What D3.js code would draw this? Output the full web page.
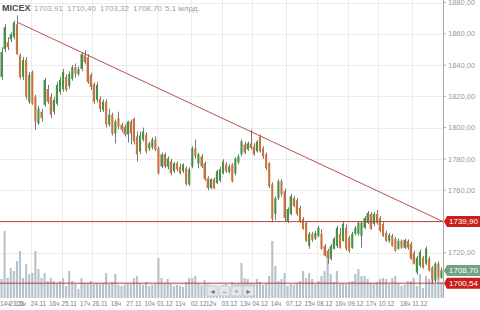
<!doctype html>
<html>
<head>
<meta charset="UTF-8">
<title>MICEX</title>
<style>
  body { margin: 0; background: #fff; }
  svg { display: block; font-family: Arial, "Liberation Sans", sans-serif; }
</style>
</head>
<body>
<div id="chart"></div>
<script src="https://cdn.jsdelivr.net/npm/d3@7"></script>
<script>
// hourly candles, MICEX index
var opens = [1832.4,1850.2,1854.6,1856.5,1857.8,1866.1,1846.4,1832.4,1843.2,1816.5,1835.6,1819.7,1802.6,1810.2,1814.6,1824.7,1819.7,1810.2,1815.3,1822.9,
  1824.7,1832.4,1826.6,1831.1,1838.7,1834.3,1837.5,1846.4,1845.1,1833.7,1827.9,1817.8,1818.4,1811.4,1816.5,1801.9,1808.3,1796.2,1806.0,1801.9,
  1800.6,1795.6,1803.8,1805.7,1794.3,1784.8,1792.4,1795.6,1786.7,1787.3,1792.4,1786.7,1775.2,1782.9,1775.0,1778.4,1772.1,1777.2,1775.0,1772.1,
  1774.0,1763.8,1775.2,1786.7,1777.0,1781.6,1777.2,1767.6,1761.3,1767.0,1764.5,1766.0,1770.8,1776.5,1771.5,1776.5,1770.8,1777.8,1782.9,1789.2,
  1786.0,1789.9,1788.0,1784.8,1794.3,1786.7,1782.9,1777.2,1763.8,1744.8,1754.9,1765.7,1759.4,1740.3,1744.8,1754.9,1753.6,1748.6,1741.6,1739.1,
  1724.4,1732.1,1729.0,1730.8,1732.1,1724.4,1721.3,1716.2,1722.5,1724.4,1732.1,1727.6,1735.9,1729.5,1723.2,1732.1,1732.1,1730.8,1735.9,1739.1,
  1744.8,1738.4,1744.8,1742.2,1738.4,1732.7,1727.6,1730.8,1728.9,1722.5,1727.6,1723.2,1727.6,1725.7,1720.0,1707.3,1711.7,1716.8,1713.0,1716.2,
  1710.5,1702.2,1713.0,1703.91];
var highs = [1851.4,1866.1,1857.8,1861.0,1868.5,1871.8,1847.5,1845.1,1845.0,1835.6,1836.5,1821.0,1814.0,1812.0,1831.8,1827.3,1822.0,1819.7,1829.2,1832.4,
  1837.5,1834.0,1836.0,1840.0,1841.0,1839.0,1848.3,1849.5,1847.0,1835.0,1829.0,1829.0,1820.0,1818.0,1818.0,1812.0,1809.5,1805.1,1810.2,1803.0,
  1801.9,1804.5,1805.1,1806.4,1797.5,1797.5,1800.0,1797.0,1791.0,1793.7,1794.3,1788.0,1784.0,1784.0,1781.6,1780.0,1778.0,1778.4,1777.0,1777.2,
  1775.2,1774.6,1788.0,1792.4,1784.0,1783.0,1778.4,1768.9,1767.6,1768.0,1773.0,1775.0,1779.7,1778.0,1776.5,1777.2,1781.0,1783.0,1792.4,1791.0,
  1791.1,1798.7,1790.0,1792.0,1795.6,1788.0,1784.0,1778.0,1765.0,1756.0,1767.0,1767.0,1761.0,1749.0,1757.5,1756.0,1755.0,1750.0,1742.9,1740.3,
  1733.4,1733.4,1734.0,1737.1,1735.0,1725.5,1722.5,1725.5,1730.0,1737.1,1735.9,1740.0,1738.0,1730.8,1733.4,1737.0,1740.3,1740.0,1743.5,1746.7,
  1746.0,1746.0,1747.3,1743.5,1739.5,1734.0,1732.7,1732.0,1730.0,1729.0,1728.5,1729.0,1728.5,1727.0,1721.3,1718.0,1722.0,1718.0,1724.0,1717.5,
  1711.5,1714.0,1714.5,1710.40];
var lows = [1830.5,1848.3,1849.5,1854.6,1856.5,1846.4,1831.0,1830.5,1818.0,1815.3,1814.6,1798.7,1801.9,1803.8,1813.3,1815.3,1806.0,1808.3,1814.0,1821.0,
  1823.0,1822.9,1825.0,1830.0,1832.0,1833.0,1836.0,1840.5,1828.0,1824.0,1815.0,1816.0,1810.0,1810.0,1800.0,1800.6,1795.0,1789.9,1799.0,1797.0,
  1794.3,1790.5,1789.2,1789.2,1778.4,1783.0,1791.1,1783.5,1785.0,1786.0,1785.0,1770.0,1774.0,1774.0,1773.3,1769.5,1771.0,1772.0,1770.0,1771.0,
  1763.0,1762.5,1774.0,1780.0,1774.0,1774.0,1766.0,1760.0,1760.6,1760.6,1763.8,1765.0,1770.0,1771.0,1770.8,1765.0,1769.5,1776.5,1781.6,1783.0,
  1785.0,1786.0,1782.0,1784.0,1784.0,1780.0,1773.0,1761.3,1740.3,1740.9,1753.6,1756.0,1740.3,1739.0,1744.0,1749.0,1743.5,1739.0,1734.6,1726.9,
  1722.5,1727.0,1728.0,1730.0,1721.9,1717.5,1713.0,1715.0,1722.0,1723.0,1722.5,1727.0,1721.3,1720.0,1722.5,1731.0,1731.0,1723.2,1735.0,1738.4,
  1734.6,1737.0,1738.0,1733.0,1730.0,1726.9,1726.3,1723.8,1720.6,1721.9,1722.5,1722.5,1722.0,1715.5,1712.4,1706.0,1710.5,1709.8,1712.0,1707.9,
  1700.54,1701.0,1703.3,1703.32];
var closes = [1848.3,1864.1,1851.4,1859.7,1867.3,1847.0,1832.4,1843.2,1819.7,1833.7,1815.3,1803.8,1812.1,1806.0,1830.5,1816.5,1808.3,1817.8,1827.3,1830.5,
  1835.6,1824.1,1834.3,1838.7,1834.3,1837.5,1847.0,1841.9,1829.2,1826.0,1816.5,1827.3,1812.1,1816.5,1801.9,1808.3,1796.2,1803.8,1800.6,1798.7,
  1795.6,1803.8,1796.2,1791.1,1782.9,1795.0,1797.5,1784.8,1789.9,1792.4,1786.0,1770.8,1782.9,1775.2,1780.3,1770.8,1777.2,1773.3,1770.8,1776.5,
  1763.8,1773.3,1786.7,1781.6,1782.9,1775.2,1767.0,1761.3,1767.0,1761.3,1772.1,1773.3,1778.4,1772.1,1775.2,1765.7,1780.3,1781.6,1791.1,1784.0,
  1789.9,1787.0,1782.9,1791.1,1784.8,1781.6,1774.0,1762.5,1741.6,1754.9,1765.7,1757.5,1742.2,1747.9,1756.2,1749.8,1744.8,1740.3,1735.3,1727.6,
  1732.1,1728.2,1732.7,1735.9,1722.5,1718.1,1716.2,1724.4,1728.9,1735.9,1723.2,1738.4,1722.5,1721.3,1732.1,1735.9,1739.1,1739.1,1742.2,1745.4,
  1735.3,1744.8,1739.1,1734.0,1730.8,1727.6,1731.4,1724.4,1721.3,1727.6,1723.2,1728.2,1723.2,1716.2,1713.0,1716.8,1720.6,1710.5,1722.5,1708.6,
  1703.0,1713.0,1704.1,1708.70];
var volumes = [19,67,20,30,27,37,47,20,34,24,25,47,29,20,25,17,20,17,15,17,
  20,12,27,17,14,9,20,15,15,17,14,15,14,15,25,14,16,24,13,12,
  13,15,14,20,22,15,13,16,12,13,14,40,20,15,19,14,12,13,12,11,
  16,20,20,22,15,13,18,14,11,12,10,12,13,14,12,16,14,15,35,20,
  19,15,14,19,16,13,15,22,57,32,17,19,25,12,14,13,15,17,27,20,
  25,19,14,17,22,27,39,24,16,27,14,15,14,16,17,24,29,22,22,19,
  15,14,16,19,20,19,14,20,22,15,12,13,17,17,20,12,24,10,22,19,
  30,14,20,16];

// x axis labels: candle index where the label starts
var tickIdx = [0,3,5,10,16,20,26,30,36,41,47,51,57,62,67,72,78,82,88,93,99,103,109,113,119,123,130,134];
var tickLabels = ["14ч","23.11","15ч","24.11","16ч","25.11","17ч","26.11","18ч","27.11","10ч","01.12","11ч","02.12","12ч","03.12",
  "13ч","04.12","14ч","07.12","15ч","08.12","16ч","09.12","17ч","10.12","18ч","11.12"];
var priceTicks = [1700,1720,1740,1760,1780,1800,1820,1840,1860,1880];

var header = ["1703,91","1710,40","1703,32","1708,70","5,1 млрд."];
var trendFrom = [5, 1867.5], trendTo = [143.5, 1739.9];
var levels = [1739.90, 1700.54];
var lastPrice = 1708.70;

var W = 480, H = 310, plotR = 443, volBase = 298;
var n = closes.length;
var fmt = function(v) { return d3.format(".2f")(v).replace(".", ","); };

var svg = d3.select("#chart").append("svg")
  .attr("width", W).attr("height", H);
svg.append("rect").attr("width", W).attr("height", H).attr("fill", "#fff");

var x = d3.scaleLinear().domain([-0.5, n - 0.5]).range([0, plotR]);
var y = d3.scaleLinear().domain([1700, 1880]).range([284, 2.5]);
var yv = d3.scaleLinear().domain([0, 70]).range([volBase, volBase - 70]);
var bw = (x(1) - x(0)) * 0.68;

// grid
svg.append("g").selectAll("line").data(priceTicks).join("line")
  .attr("x1", 0).attr("x2", plotR)
  .attr("y1", function(d) { return Math.round(y(d)) + 0.5; })
  .attr("y2", function(d) { return Math.round(y(d)) + 0.5; })
  .attr("stroke", "#ececec");
var dateTicks = tickIdx.filter(function(d, i) { return tickLabels[i].indexOf(".") > 0 && i > 1; });
svg.append("g").selectAll("line").data(dateTicks).join("line")
  .attr("x1", function(d) { return Math.round(x(d - 0.5)) + 0.5; })
  .attr("x2", function(d) { return Math.round(x(d - 0.5)) + 0.5; })
  .attr("y1", 0).attr("y2", volBase)
  .attr("stroke", "#ececec");

// volume
svg.append("g").selectAll("rect").data(volumes).join("rect")
  .attr("x", function(d, i) { return x(i) - bw / 2; })
  .attr("y", function(d) { return yv(d); })
  .attr("width", bw)
  .attr("height", function(d) { return volBase - yv(d); })
  .attr("fill", "#b7c1cb");

// candles
var cg = svg.append("g");
cg.selectAll("line").data(closes).join("line")
  .attr("x1", function(d, i) { return Math.round(x(i)) + 0.5; })
  .attr("x2", function(d, i) { return Math.round(x(i)) + 0.5; })
  .attr("y1", function(d, i) { return y(highs[i]); })
  .attr("y2", function(d, i) { return y(lows[i]); })
  .attr("stroke", "#555").attr("stroke-width", 0.8);
cg.selectAll("rect").data(closes).join("rect")
  .attr("x", function(d, i) { return x(i) - bw / 2; })
  .attr("y", function(d, i) { return y(Math.max(d, opens[i])); })
  .attr("width", bw)
  .attr("height", function(d, i) { return Math.max(1, Math.abs(y(d) - y(opens[i]))); })
  .attr("fill", function(d, i) { return d >= opens[i] ? "#459245" : "#c9743c"; });

// trend line and levels
svg.append("line")
  .attr("x1", x(trendFrom[0])).attr("y1", y(trendFrom[1]))
  .attr("x2", x(trendTo[0])).attr("y2", y(trendTo[1]))
  .attr("stroke", "#b9514c").attr("stroke-width", 1);
svg.append("g").selectAll("line").data(levels).join("line")
  .attr("x1", 0).attr("x2", plotR)
  .attr("y1", function(d) { return y(d); }).attr("y2", function(d) { return y(d); })
  .attr("stroke", "#b9413c").attr("stroke-width", 1);

// price boxes
var boxes = [
  { v: levels[0], c: "#c81e1e" },
  { v: lastPrice, c: "#6fa384" },
  { v: levels[1], c: "#c81e1e" }
];

// right axis; labels hidden where a price box covers them
svg.append("line").attr("x1", plotR + 0.5).attr("x2", plotR + 0.5)
  .attr("y1", 0).attr("y2", volBase).attr("stroke", "#a9a9a9");
var ax = svg.append("g").selectAll("g").data(priceTicks).join("g")
  .attr("transform", function(d) { return "translate(" + plotR + "," + y(d) + ")"; });
ax.append("line").attr("x1", 0).attr("x2", 3).attr("stroke", "#a9a9a9");
ax.filter(function(d) {
    return boxes.every(function(b) { return Math.abs(y(b.v) - y(d)) > 9; });
  })
  .append("text").attr("x", 5).attr("dy", "0.35em")
  .attr("font-size", 7.5).attr("fill", "#9a9a9a").text(fmt);

var bx = svg.append("g").selectAll("g").data(boxes).join("g")
  .attr("transform", function(d) { return "translate(" + (plotR + 1) + "," + y(d.v) + ")"; });
bx.append("path").attr("d", "M0,0 L3,-5.5 H36 V5.5 H3 Z").attr("fill", function(d) { return d.c; });
bx.append("text").attr("x", 5).attr("dy", "0.35em").attr("font-size", 8)
  .attr("fill", "#fff").text(function(d) { return fmt(d.v); });

// x labels
svg.append("g").selectAll("text").data(tickIdx).join("text")
  .attr("x", function(d) { return x(d - 0.5); })
  .attr("y", 306)
  .attr("font-size", 6.3).attr("fill", "#7d7d7d")
  .text(function(d, i) { return tickLabels[i]; });

// navigation buttons
var nav = ["◄", "–", "+", "►"];
var ng = svg.append("g").selectAll("g").data(nav).join("g")
  .attr("transform", function(d, i) { return "translate(" + (207 + i * 12) + ",286)"; });
ng.append("rect").attr("width", 11).attr("height", 10).attr("rx", 1)
  .attr("fill", "#e4e8ec").attr("stroke", "#c6ccd2");
ng.append("text").attr("x", 5.5).attr("y", 8).attr("text-anchor", "middle")
  .attr("font-size", 7).attr("fill", "#777").text(function(d) { return d; });

// header
svg.append("text").attr("x", 2).attr("y", 11).attr("font-size", 9)
  .attr("font-weight", "bold").attr("fill", "#4a4a4a").text("MICEX");
var hx = [34, 67, 100, 133, 165];
svg.append("g").selectAll("text").data(header).join("text")
  .attr("x", function(d, i) { return hx[i]; }).attr("y", 11)
  .attr("font-size", 8).attr("fill", "#a0a0a0").text(function(d) { return d; });
</script>
</body>
</html>
